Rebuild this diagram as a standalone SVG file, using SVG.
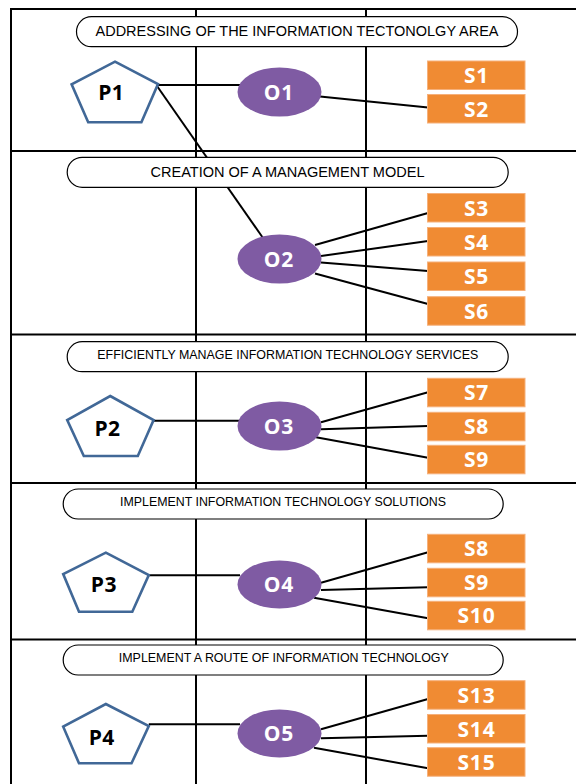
<svg xmlns="http://www.w3.org/2000/svg" width="576" height="784" viewBox="0 0 576 784">
<style>
.grid{stroke:#000;stroke-width:2;fill:none}
.conn line{stroke:#000;stroke-width:2}
.pill rect{fill:#fff;stroke:#000;stroke-width:1.2}
.pill text{font-family:"Liberation Sans",Arial,sans-serif;fill:#000;text-anchor:middle}
.pent polygon{fill:#fff;stroke:#416897;stroke-width:2.6;stroke-linejoin:miter}
.pent text{font-family:"Open Sans","DejaVu Sans",sans-serif;font-weight:bold;font-size:21px;fill:#000;text-anchor:middle;letter-spacing:0.4px}
.obj ellipse{fill:#7F5BA3}
.obj text{font-family:"Open Sans","DejaVu Sans",sans-serif;font-weight:bold;font-size:21px;fill:#fff;text-anchor:middle;letter-spacing:0.6px}
.strat rect{fill:#F08B33;stroke:#F6B07A;stroke-width:1}
.strat text{font-family:"Open Sans","DejaVu Sans",sans-serif;font-weight:bold;font-size:21px;fill:#fff;text-anchor:middle;letter-spacing:0.8px}
</style>
<rect width="576" height="784" fill="#fff"/>
<g id="grid" class="grid">
<line x1="10" y1="9" x2="576" y2="9"/>
<line x1="11" y1="8" x2="11" y2="784"/>
<line x1="196" y1="9" x2="196" y2="784"/>
<line x1="366" y1="9" x2="366" y2="784"/>
<line x1="11" y1="151" x2="576" y2="151"/>
<line x1="11" y1="334.5" x2="576" y2="334.5"/>
<line x1="11" y1="483" x2="576" y2="483"/>
<line x1="11" y1="639.5" x2="576" y2="639.5"/>
</g>
<g id="connectors" class="conn">
<line x1="158" y1="85" x2="240" y2="85"/>
<line x1="157" y1="86" x2="263" y2="238"/>
<line x1="320" y1="96.5" x2="428" y2="107.5"/>
<line x1="315" y1="245" x2="428" y2="213"/>
<line x1="321" y1="256" x2="428" y2="241"/>
<line x1="321" y1="262.5" x2="428" y2="271"/>
<line x1="315" y1="273.5" x2="428" y2="304"/>
<line x1="153.6" y1="420.7" x2="240" y2="420.7"/>
<line x1="321" y1="422.3" x2="428" y2="392.3"/>
<line x1="321" y1="429.3" x2="428" y2="426"/>
<line x1="316" y1="437.3" x2="428" y2="457.7"/>
<line x1="148.8" y1="575.3" x2="240" y2="575.3"/>
<line x1="321" y1="582.7" x2="428" y2="552.3"/>
<line x1="321" y1="590" x2="428" y2="587.3"/>
<line x1="314" y1="597.7" x2="428" y2="618.3"/>
<line x1="148.8" y1="724.3" x2="240" y2="724.3"/>
<line x1="321" y1="729.3" x2="428" y2="699"/>
<line x1="321" y1="738.3" x2="428" y2="735.7"/>
<line x1="314" y1="747.7" x2="428" y2="768.3"/>
</g>
<g id="pill1" class="pill"><rect x="76.5" y="16.7" width="441" height="30" rx="15"/><text x="297" y="36" font-size="14.4" textLength="403" lengthAdjust="spacingAndGlyphs">ADDRESSING OF THE INFORMATION TECTONOLGY AREA</text></g>
<g id="pill2" class="pill"><rect x="67.2" y="157.3" width="441" height="30" rx="15"/><text x="287.5" y="176.5" font-size="14.4" textLength="274" lengthAdjust="spacingAndGlyphs">CREATION OF A MANAGEMENT MODEL</text></g>
<g id="pill3" class="pill"><rect x="67.2" y="341.7" width="441" height="30" rx="15"/><text x="287.8" y="359" font-size="12.8" textLength="381" lengthAdjust="spacingAndGlyphs">EFFICIENTLY MANAGE INFORMATION TECHNOLOGY SERVICES</text></g>
<g id="pill4" class="pill"><rect x="63.2" y="489" width="440" height="30" rx="15"/><text x="283" y="506" font-size="12.6" textLength="326" lengthAdjust="spacingAndGlyphs">IMPLEMENT INFORMATION TECHNOLOGY SOLUTIONS</text></g>
<g id="pill5" class="pill"><rect x="63.2" y="645" width="440" height="30" rx="15"/><text x="283.8" y="662" font-size="13" textLength="330" lengthAdjust="spacingAndGlyphs">IMPLEMENT A ROUTE OF INFORMATION TECHNOLOGY</text></g>
<g id="P1" class="pent"><polygon points="115,61.7 158,84 141.4,122.3 88.2,122.3 71.6,84.3"/><text x="111.2" y="99.5">P1</text></g>
<g id="P2" class="pent"><polygon points="110.2,396 153.6,420 137.8,456 83.8,456 67.2,420"/><text x="107.5" y="435.5">P2</text></g>
<g id="P3" class="pent"><polygon points="105.8,552.7 148.8,575 132.3,611.7 79,611.7 63.2,574"/><text x="103.8" y="592">P3</text></g>
<g id="P4" class="pent"><polygon points="105.8,704 148.8,726 131.5,763.3 79,763.3 63.2,726.7"/><text x="101.7" y="744.5">P4</text></g>
<g id="O1" class="obj"><ellipse cx="279.5" cy="92" rx="42" ry="24.5"/><text x="278.8" y="99.5">O1</text></g>
<g id="O2" class="obj"><ellipse cx="279.5" cy="259" rx="42" ry="24.5"/><text x="278.8" y="266.5">O2</text></g>
<g id="O3" class="obj"><ellipse cx="279.5" cy="426" rx="42" ry="24.5"/><text x="278.8" y="433.5">O3</text></g>
<g id="O4" class="obj"><ellipse cx="279.5" cy="584.5" rx="42" ry="24"/><text x="278.8" y="592">O4</text></g>
<g id="O5" class="obj"><ellipse cx="279.5" cy="733.5" rx="42" ry="24"/><text x="278.8" y="741">O5</text></g>
<g id="S1" class="strat"><rect x="427.5" y="61" width="97.5" height="28.5"/><text x="476.5" y="83">S1</text></g>
<g id="S2" class="strat"><rect x="427.5" y="94.5" width="97.5" height="28.5"/><text x="476.5" y="116.5">S2</text></g>
<g id="S3" class="strat"><rect x="427.5" y="193.5" width="97.5" height="28.5"/><text x="476.5" y="215.5">S3</text></g>
<g id="S4" class="strat"><rect x="427.5" y="227.5" width="97.5" height="28.5"/><text x="476.5" y="249.5">S4</text></g>
<g id="S5" class="strat"><rect x="427.5" y="262" width="97.5" height="28.5"/><text x="476.5" y="284">S5</text></g>
<g id="S6" class="strat"><rect x="427.5" y="296.7" width="97.5" height="28.5"/><text x="476.5" y="318.7">S6</text></g>
<g id="S7" class="strat"><rect x="427.5" y="378.3" width="97.5" height="28.5"/><text x="476.5" y="400.3">S7</text></g>
<g id="S8a" class="strat"><rect x="427.5" y="412.3" width="97.5" height="28.5"/><text x="476.5" y="434.3">S8</text></g>
<g id="S9a" class="strat"><rect x="427.5" y="445.3" width="97.5" height="28.5"/><text x="476.5" y="467.3">S9</text></g>
<g id="S8b" class="strat"><rect x="427.5" y="534.3" width="97.5" height="28.5"/><text x="476.5" y="556.3">S8</text></g>
<g id="S9b" class="strat"><rect x="427.5" y="568.3" width="97.5" height="28.5"/><text x="476.5" y="590.3">S9</text></g>
<g id="S10" class="strat"><rect x="427.5" y="601.3" width="97.5" height="28.5"/><text x="476.5" y="623.3">S10</text></g>
<g id="S13" class="strat"><rect x="427.5" y="680.7" width="97.5" height="28.5"/><text x="476.5" y="702.7">S13</text></g>
<g id="S14" class="strat"><rect x="427.5" y="714.5" width="97.5" height="28.5"/><text x="476.5" y="736.5">S14</text></g>
<g id="S15" class="strat"><rect x="427.5" y="747.7" width="97.5" height="28.5"/><text x="476.5" y="769.7">S15</text></g>
</svg>
